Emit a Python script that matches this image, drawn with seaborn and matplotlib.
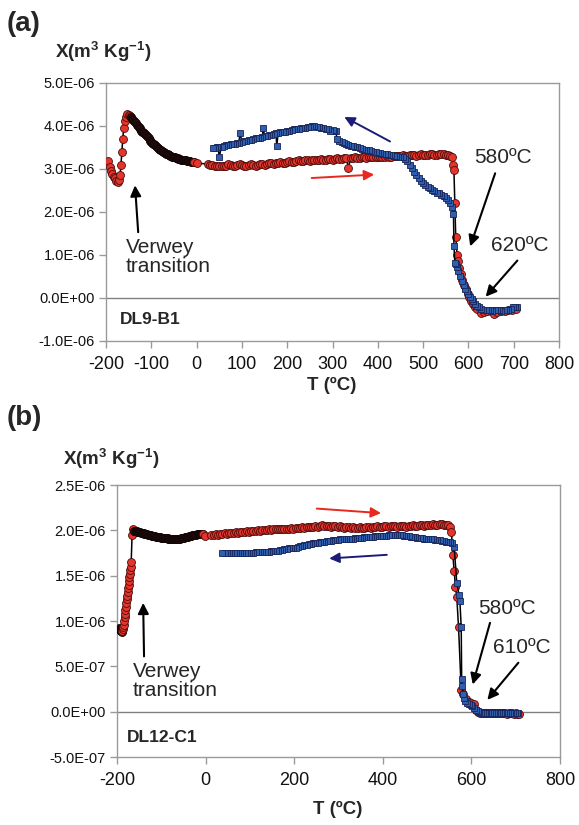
import numpy as np
import matplotlib
matplotlib.use("Agg")
import matplotlib.pyplot as plt
import seaborn as sns

# ---------------------------------------------------------------------------
# Susceptibility vs temperature, values in units of 1e-6 m^3/kg
# ---------------------------------------------------------------------------
SCALE = 1e-6

# (a) sample DL9-B1 : heating run (T, chi), split into its segments
RED_A_COLD = [
    (-195, 3.18), (-192, 3.05), (-189, 2.95), (-186, 2.88), (-183, 2.82), (-180, 2.78),
    (-177, 2.72), (-174, 2.70), (-171, 2.75), (-169, 2.85), (-167, 3.10), (-165, 3.40),
    (-163, 3.70), (-161, 3.95), (-159, 4.12), (-156, 4.22), (-153, 4.27), (-150, 4.26),
    (-147, 4.24), (-144, 4.20),
]
# densely sampled stretch after the Verwey peak
RED_A_DENSE = [
    (-144, 4.20), (-142, 4.17), (-140, 4.14), (-138, 4.12), (-136, 4.09), (-134, 4.06),
    (-132, 4.03), (-130, 4.00), (-128, 3.97), (-126, 3.95), (-124, 3.92), (-122, 3.89),
    (-120, 3.87), (-118, 3.85), (-116, 3.83), (-114, 3.81), (-112, 3.79), (-110, 3.77),
    (-108, 3.74), (-106, 3.71), (-104, 3.68), (-102, 3.66), (-100, 3.63), (-98, 3.61),
    (-96, 3.59), (-94, 3.57), (-92, 3.55), (-90, 3.53), (-88, 3.51), (-86, 3.49),
    (-84, 3.47), (-82, 3.46), (-80, 3.44), (-78, 3.43), (-76, 3.42), (-74, 3.40),
    (-72, 3.39), (-70, 3.38), (-68, 3.36), (-66, 3.35), (-64, 3.34), (-62, 3.33),
    (-60, 3.32), (-58, 3.31), (-56, 3.30), (-54, 3.29), (-52, 3.28), (-50, 3.28),
    (-48, 3.27), (-46, 3.26), (-44, 3.25), (-42, 3.25), (-40, 3.24), (-38, 3.23),
    (-36, 3.23), (-34, 3.22), (-32, 3.22), (-30, 3.21), (-28, 3.21), (-26, 3.20),
    (-24, 3.20), (-22, 3.19), (-20, 3.19), (-18, 3.18), (-16, 3.18), (-14, 3.18),
    (-12, 3.17), (-10, 3.17), (-8, 3.16), (-6, 3.16),
]
RED_A_WARM = [
    (-6, 3.16), (1, 3.13),
    (25, 3.12), (30, 3.10), (35, 3.09), (40, 3.08), (45, 3.07), (50, 3.08), (55, 3.06),
    (60, 3.07), (65, 3.08), (70, 3.11), (75, 3.09), (80, 3.07), (85, 3.08), (90, 3.10),
    (95, 3.12), (100, 3.10), (105, 3.08), (110, 3.07), (115, 3.09), (120, 3.11),
    (125, 3.10), (130, 3.08), (135, 3.09), (140, 3.11), (145, 3.12), (150, 3.10),
    (155, 3.11), (160, 3.13), (165, 3.14), (170, 3.12), (175, 3.13), (180, 3.15),
    (185, 3.16), (190, 3.14), (195, 3.15), (200, 3.17), (205, 3.18), (210, 3.16),
    (215, 3.17), (220, 3.19), (225, 3.20), (230, 3.18), (235, 3.19), (240, 3.21),
    (245, 3.20), (250, 3.19), (255, 3.21), (260, 3.22), (265, 3.20), (270, 3.21),
    (275, 3.23), (280, 3.22), (285, 3.21), (290, 3.23), (295, 3.24), (300, 3.22),
    (305, 3.23), (310, 3.25), (315, 3.24), (320, 3.23), (325, 3.25), (330, 3.26),
    (335, 3.03), (340, 3.25), (345, 3.26), (350, 3.27), (355, 3.25), (360, 3.26),
    (365, 3.28), (370, 3.27), (375, 3.26), (380, 3.28), (385, 3.29), (390, 3.27),
    (395, 3.28), (400, 3.29), (405, 3.28), (410, 3.27), (415, 3.29), (420, 3.30),
    (425, 3.29), (430, 3.28), (435, 3.30), (440, 3.31), (445, 3.30), (450, 3.31),
    (455, 3.32), (460, 3.31), (465, 3.30), (470, 3.32), (475, 3.33), (480, 3.32),
    (485, 3.31), (490, 3.33), (495, 3.34), (500, 3.33), (505, 3.32), (510, 3.33),
    (515, 3.34), (520, 3.35), (525, 3.33), (530, 3.32), (535, 3.34), (540, 3.35),
    (545, 3.34), (550, 3.33), (555, 3.32), (559, 3.30), (563, 3.27), (566, 3.10),
    (568, 2.97), (570, 2.20), (572, 1.42), (575, 1.00), (577, 0.87), (580, 0.70),
    (583, 0.55), (586, 0.42), (590, 0.30), (594, 0.20), (598, 0.10), (602, 0.02),
    (606, -0.06), (610, -0.13), (615, -0.20), (620, -0.26), (628, -0.36), (635, -0.32),
    (642, -0.31), (650, -0.31), (657, -0.37), (664, -0.32), (672, -0.30), (680, -0.30),
    (688, -0.29), (696, -0.28), (705, -0.26),
]

# (a) sample DL9-B1 : cooling run (T, chi), in measurement order
BLUE_A = [
    (707, -0.22), (703, -0.20), (698, -0.22), (693, -0.25), (688, -0.28), (683, -0.27),
    (678, -0.28), (673, -0.30), (668, -0.28), (663, -0.27), (658, -0.28), (653, -0.30),
    (648, -0.29), (643, -0.27), (638, -0.28), (633, -0.27), (628, -0.25), (623, -0.22),
    (619, -0.18), (615, -0.14), (611, -0.08), (607, -0.02), (604, 0.02), (600, 0.10),
    (597, 0.16), (593, 0.22), (590, 0.30), (586, 0.40), (582, 0.50), (578, 0.62),
    (575, 0.72), (572, 0.80), (570, 0.82), (568, 1.22), (567, 1.96), (564, 2.12),
    (559, 2.20), (555, 2.28), (550, 2.33), (545, 2.37), (540, 2.40), (535, 2.43),
    (530, 2.45), (525, 2.49), (520, 2.52), (515, 2.55), (510, 2.58), (505, 2.63),
    (500, 2.68), (495, 2.73), (490, 2.80), (485, 2.87), (480, 2.94), (475, 3.02),
    (470, 3.10), (465, 3.18), (460, 3.24), (455, 3.27), (450, 3.28), (445, 3.29),
    (440, 3.30), (435, 3.31), (430, 3.32), (425, 3.33), (420, 3.34), (415, 3.35),
    (410, 3.36), (405, 3.37), (400, 3.38), (395, 3.39), (390, 3.40), (385, 3.42),
    (380, 3.43), (375, 3.44), (370, 3.45), (365, 3.47), (360, 3.48), (355, 3.50),
    (350, 3.51), (345, 3.53), (340, 3.54), (335, 3.56), (330, 3.58), (325, 3.60),
    (320, 3.63), (315, 3.66), (310, 3.70), (307, 3.88), (303, 3.88), (300, 3.90),
    (295, 3.89), (290, 3.92), (285, 3.93), (280, 3.95), (275, 3.96), (270, 3.97),
    (265, 3.98), (260, 4.00), (255, 3.99), (250, 3.98), (245, 3.97), (240, 3.96),
    (235, 3.95), (230, 3.96), (225, 3.94), (220, 3.93), (215, 3.92), (210, 3.90),
    (205, 3.89), (200, 3.88), (195, 3.86), (190, 3.87), (185, 3.85), (180, 3.84),
    (177, 3.54), (175, 3.83), (170, 3.81), (165, 3.80), (160, 3.78), (155, 3.77),
    (150, 3.76), (147, 3.96), (145, 3.74), (140, 3.73), (135, 3.72), (130, 3.71),
    (125, 3.69), (120, 3.68), (115, 3.67), (110, 3.66), (105, 3.64), (100, 3.63),
    (96, 3.84), (93, 3.61), (90, 3.60), (85, 3.59), (80, 3.58), (75, 3.57),
    (70, 3.56), (65, 3.55), (60, 3.54), (55, 3.52), (50, 3.29), (47, 3.51),
    (44, 3.50), (40, 3.49), (37, 3.48),
]

# (b) sample DL12-C1 : heating run (T, chi), split into its segments
RED_B_START = [
    (-195, 0.92), (-194, 0.91), (-193, 0.90), (-192, 0.90), (-191, 0.89), (-190, 0.89),
    (-189, 0.88), (-188, 0.89),
]
RED_B_RISE = [
    (-188, 0.89), (-187, 0.91), (-186, 0.93), (-185, 0.96), (-184, 1.00),
    (-183, 1.04), (-182, 1.08), (-181, 1.12), (-180, 1.16), (-179, 1.20), (-178, 1.24),
    (-177, 1.28), (-176, 1.32), (-175, 1.36), (-174, 1.40), (-173, 1.44), (-172, 1.48),
    (-171, 1.52), (-170, 1.56), (-169, 1.60), (-168, 1.65), (-166, 1.95), (-164, 2.01),
    (-161, 1.99),
]
RED_B_DENSE = [
    (-161, 1.99), (-158, 1.99), (-156, 1.99), (-154, 1.98), (-152, 1.98), (-150, 1.98),
    (-148, 1.98), (-146, 1.97), (-144, 1.97), (-142, 1.97), (-140, 1.97), (-138, 1.96),
    (-136, 1.96), (-134, 1.96), (-132, 1.96), (-130, 1.95), (-128, 1.95), (-126, 1.95),
    (-124, 1.95), (-122, 1.94), (-120, 1.94), (-118, 1.94), (-116, 1.94), (-114, 1.94),
    (-112, 1.93), (-110, 1.93), (-108, 1.93), (-106, 1.93), (-104, 1.93), (-102, 1.93),
    (-100, 1.92), (-98, 1.92), (-96, 1.92), (-94, 1.92), (-92, 1.92), (-90, 1.92),
    (-88, 1.92), (-86, 1.92), (-84, 1.91), (-82, 1.91), (-80, 1.91), (-78, 1.91),
    (-76, 1.91), (-74, 1.91), (-72, 1.91), (-70, 1.91), (-68, 1.91), (-66, 1.91),
    (-64, 1.91), (-62, 1.91), (-60, 1.91), (-58, 1.91), (-56, 1.92), (-54, 1.92),
    (-52, 1.92), (-50, 1.92), (-48, 1.92), (-46, 1.93), (-44, 1.93), (-42, 1.93),
    (-40, 1.93), (-38, 1.94), (-36, 1.94), (-34, 1.94), (-32, 1.94), (-30, 1.95),
    (-28, 1.95), (-26, 1.95), (-24, 1.95), (-22, 1.95), (-20, 1.96), (-18, 1.96),
    (-16, 1.96), (-14, 1.96), (-12, 1.96), (-10, 1.96), (-8, 1.96), (-6, 1.96),
]
RED_B_WARM = [
    (-6, 1.96), (-1, 1.94),
    (13, 1.95), (18, 1.95), (23, 1.96), (28, 1.95), (33, 1.96), (38, 1.96), (43, 1.97),
    (48, 1.96), (53, 1.97), (58, 1.97), (63, 1.97), (68, 1.98), (73, 1.97), (78, 1.98),
    (83, 1.98), (88, 1.98), (93, 1.99), (98, 1.98), (103, 1.99), (108, 1.99), (113, 1.99),
    (118, 2.00), (123, 1.99), (128, 2.00), (133, 2.00), (138, 2.00), (143, 2.01),
    (148, 2.00), (153, 2.01), (158, 2.01), (163, 2.01), (168, 2.02), (173, 2.01),
    (178, 2.02), (183, 2.02), (188, 2.02), (193, 2.03), (198, 2.02), (203, 2.03),
    (208, 2.03), (213, 2.03), (218, 2.04), (223, 2.03), (228, 2.04), (233, 2.04),
    (238, 2.04), (243, 2.04), (248, 2.05), (253, 2.04), (258, 2.05), (263, 2.06),
    (268, 2.05), (273, 2.05), (278, 2.05), (283, 2.04), (288, 2.05), (293, 2.05),
    (298, 2.04), (303, 2.05), (308, 2.04), (313, 2.03), (318, 2.04), (323, 2.04),
    (328, 2.03), (333, 2.04), (338, 2.03), (343, 2.03), (348, 2.04), (353, 2.03),
    (358, 2.03), (363, 2.04), (368, 2.04), (373, 2.03), (378, 2.04), (383, 2.04),
    (388, 2.05), (393, 2.04), (398, 2.04), (403, 2.05), (408, 2.05), (413, 2.04),
    (418, 2.05), (423, 2.05), (428, 2.05), (433, 2.04), (438, 2.05), (443, 2.05),
    (448, 2.05), (453, 2.04), (458, 2.05), (463, 2.05), (468, 2.06), (473, 2.05),
    (478, 2.05), (483, 2.06), (488, 2.06), (493, 2.05), (498, 2.06), (503, 2.06),
    (508, 2.06), (513, 2.07), (518, 2.06), (523, 2.06), (528, 2.07), (533, 2.07),
    (538, 2.06), (543, 2.06), (548, 2.06),
    (552, 2.04), (555, 1.98), (558, 1.73), (561, 1.55), (564, 1.38), (567, 1.26),
    (571, 0.93), (577, 0.24), (582, 0.20), (588, 0.14), (594, 0.11), (600, 0.10),
    (606, 0.08), (611, 0.02), (616, 0.00), (620, -0.01), (624, -0.01), (628, -0.02),
    (632, -0.01), (636, -0.02), (640, -0.02), (644, -0.01), (648, -0.02), (652, -0.02),
    (656, -0.02), (660, -0.01), (664, -0.02), (668, -0.02), (672, -0.02), (676, -0.02),
    (680, -0.03), (684, -0.02), (688, -0.02), (692, -0.02), (696, -0.03), (700, -0.02),
    (704, -0.03), (708, -0.03),
]

# (b) sample DL12-C1 : cooling run (T, chi), in measurement order
BLUE_B = [
    (706, -0.02), (702, -0.02), (698, -0.02), (694, -0.02), (690, -0.01), (686, -0.02),
    (682, -0.02), (678, -0.02), (674, -0.01), (670, -0.02), (666, -0.02), (662, -0.01),
    (658, -0.01), (654, -0.02), (650, -0.01), (646, -0.01), (642, -0.01), (638, -0.01),
    (634, -0.01), (630, -0.01), (626, -0.01), (622, -0.01), (618, 0.00), (614, 0.01),
    (610, 0.02), (606, 0.04), (602, 0.06), (598, 0.07), (594, 0.08), (590, 0.10),
    (586, 0.12), (583, 0.15), (581, 0.20), (579, 0.28), (578, 0.36), (577, 0.93),
    (574, 1.22), (572, 1.29), (567, 1.42), (561, 1.82), (556, 1.86), (552, 1.87),
    (548, 1.87), (543, 1.87), (538, 1.88), (533, 1.88), (528, 1.89), (523, 1.89),
    (518, 1.89), (513, 1.90), (508, 1.90), (503, 1.90), (498, 1.91), (493, 1.91),
    (488, 1.92), (483, 1.92), (478, 1.92), (473, 1.93), (468, 1.93), (463, 1.93),
    (458, 1.94), (453, 1.94), (448, 1.94), (443, 1.95), (438, 1.95), (433, 1.95),
    (428, 1.95), (423, 1.95), (418, 1.95), (413, 1.95), (408, 1.94), (403, 1.94),
    (398, 1.94), (393, 1.94), (388, 1.94), (383, 1.94), (378, 1.93), (373, 1.93),
    (368, 1.93), (363, 1.93), (358, 1.93), (353, 1.92), (348, 1.92), (343, 1.92),
    (338, 1.92), (333, 1.91), (328, 1.91), (323, 1.91), (318, 1.91), (313, 1.90),
    (308, 1.90), (303, 1.90), (298, 1.89), (293, 1.89), (288, 1.89), (283, 1.88),
    (278, 1.88), (273, 1.88), (268, 1.87), (263, 1.87), (258, 1.87), (253, 1.86),
    (248, 1.86), (243, 1.86), (238, 1.85), (233, 1.85), (228, 1.84), (223, 1.84),
    (218, 1.83), (213, 1.83), (208, 1.82), (203, 1.81), (198, 1.81), (193, 1.80),
    (188, 1.80), (183, 1.79), (178, 1.79), (173, 1.78), (168, 1.78), (163, 1.77),
    (158, 1.77), (153, 1.77), (148, 1.77), (143, 1.76), (138, 1.76), (133, 1.76),
    (128, 1.76), (123, 1.76), (118, 1.76), (113, 1.76), (108, 1.75), (103, 1.75),
    (98, 1.75), (93, 1.75), (88, 1.75), (83, 1.75), (78, 1.75), (73, 1.75),
    (68, 1.75), (63, 1.75), (58, 1.75), (53, 1.75), (48, 1.75), (43, 1.75), (38, 1.75),
]

# Axis ticks
XTICKS_A = [-200, -100, 0, 100, 200, 300, 400, 500, 600, 700, 800]
YTICKS_A = [-1.0, 0.0, 1.0, 2.0, 3.0, 4.0, 5.0]
XTICKS_B = [-200, 0, 200, 400, 600, 800]
YTICKS_B = [-0.5, 0.0, 0.5, 1.0, 1.5, 2.0, 2.5]

SAMPLE_A = "DL9-B1"
SAMPLE_B = "DL12-C1"
YLABEL = r"X(m$^{3}$ Kg$^{-1}$)"
XLABEL = "T (ºC)"

# ---------------------------------------------------------------------------
sns.set_style("white")
plt.rcParams["font.family"] = ["Liberation Sans", "DejaVu Sans"]
plt.rcParams["mathtext.default"] = "regular"

RED_FACE, RED_EDGE = "#e4342b", "#4a0c0c"
DARK_FACE, DARK_EDGE = "#2a1010", "#120606"
BLUE_FACE, BLUE_EDGE = "#3060ad", "#17245a"
FRAME = "#9a9a9a"
RED_SIZE, BLUE_SIZE = 5.7, 4.7

fig = plt.figure(figsize=(5.79, 8.25), dpi=100)
ax_a = fig.add_axes([0.1831, 0.5867, 0.7824, 0.3127])
ax_b = fig.add_axes([0.2021, 0.0824, 0.7651, 0.3297])


def draw_run(ax, pairs, marker, size, face, edge):
    t = np.array([p[0] for p in pairs], dtype=float)
    v = np.array([p[1] for p in pairs], dtype=float) * SCALE
    sns.lineplot(x=t, y=v, ax=ax, sort=False, estimator=None, color="black",
                 linewidth=1.1, marker=marker, markersize=size,
                 markerfacecolor=face, markeredgecolor=edge, markeredgewidth=0.6,
                 zorder=3)


def style_axes(ax, xticks, yticks):
    ax.set_xlim(xticks[0], xticks[-1])
    ax.set_ylim(yticks[0] * SCALE, yticks[-1] * SCALE)
    ax.set_xticks(xticks)
    ax.set_xticklabels([str(t) for t in xticks], fontsize=13, color="#111111")
    ax.set_yticks([y * SCALE for y in yticks])
    ax.set_yticklabels([f"{y * SCALE:.1E}" for y in yticks], fontsize=10.5,
                       color="#111111")
    ax.tick_params(axis="both", direction="out", length=5, width=1, color=FRAME,
                   bottom=True, left=True, pad=3)
    ax.tick_params(axis="x", pad=6)
    for s in ax.spines.values():
        s.set_color(FRAME)
        s.set_linewidth(1.0)
    ax.axhline(0, color="#808080", linewidth=1.0, zorder=1)
    ax.set_xlabel("")
    ax.set_ylabel("")


def arrow(ax, tail, head, color="black", lw=1.5, scale=16):
    ax.annotate("", xy=(head[0], head[1] * SCALE), xytext=(tail[0], tail[1] * SCALE),
                arrowprops=dict(arrowstyle="-|>", color=color, lw=lw,
                                mutation_scale=scale, shrinkA=0, shrinkB=0),
                zorder=5)


# ---- panel (a) ----
draw_run(ax_a, RED_A_COLD, "o", RED_SIZE, RED_FACE, RED_EDGE)
draw_run(ax_a, RED_A_DENSE, "o", RED_SIZE, DARK_FACE, DARK_EDGE)
draw_run(ax_a, RED_A_WARM, "o", RED_SIZE, RED_FACE, RED_EDGE)
draw_run(ax_a, BLUE_A, "s", BLUE_SIZE, BLUE_FACE, BLUE_EDGE)
style_axes(ax_a, XTICKS_A, YTICKS_A)

arrow(ax_a, (-129, 1.53), (-136, 2.62))
ax_a.text(-156, 1.40 * SCALE, "Verwey\ntransition", fontsize=15, ha="left",
          va="top", linespacing=1.0)
arrow(ax_a, (254, 2.79), (392, 2.87), color="#e8281e", lw=1.4, scale=15)
arrow(ax_a, (427, 3.64), (326, 4.21), color="#1c1c78", lw=1.4, scale=15)
ax_a.text(676, 3.26 * SCALE, "580ºC", fontsize=15, ha="center", va="center")
arrow(ax_a, (659, 2.90), (604, 1.20))
ax_a.text(714, 1.22 * SCALE, "620ºC", fontsize=15, ha="center", va="center")
arrow(ax_a, (708, 0.87), (638, 0.03))
ax_a.text(-169, -0.49 * SCALE, SAMPLE_A, fontsize=12.5, fontweight="bold",
          ha="left", va="center")

# ---- panel (b) ----
draw_run(ax_b, RED_B_START, "o", RED_SIZE, DARK_FACE, DARK_EDGE)
draw_run(ax_b, RED_B_RISE, "o", RED_SIZE, RED_FACE, RED_EDGE)
draw_run(ax_b, RED_B_DENSE, "o", RED_SIZE, DARK_FACE, DARK_EDGE)
draw_run(ax_b, RED_B_WARM, "o", RED_SIZE, RED_FACE, RED_EDGE)
draw_run(ax_b, BLUE_B, "s", BLUE_SIZE, BLUE_FACE, BLUE_EDGE)
style_axes(ax_b, XTICKS_B, YTICKS_B)

arrow(ax_b, (-139, 0.61), (-141, 1.20))
ax_b.text(-164, 0.55 * SCALE, "Verwey\ntransition", fontsize=15, ha="left",
          va="top", linespacing=1.0)
arrow(ax_b, (251, 2.24), (396, 2.19), color="#e8281e", lw=1.4, scale=15)
arrow(ax_b, (409, 1.73), (279, 1.69), color="#1c1c78", lw=1.4, scale=15)
ax_b.text(681, 1.14 * SCALE, "580ºC", fontsize=15, ha="center", va="center")
arrow(ax_b, (642, 0.98), (603, 0.30))
ax_b.text(714, 0.71 * SCALE, "610ºC", fontsize=15, ha="center", va="center")
arrow(ax_b, (706, 0.54), (636, 0.13))
ax_b.text(-177, -0.28 * SCALE, SAMPLE_B, fontsize=12.5, fontweight="bold",
          ha="left", va="center")

# ---- panel letters and axis titles ----
fig.text(0.012, 0.971, "(a)", fontsize=20, fontweight="bold", ha="left", va="center")
fig.text(0.095, 0.937, YLABEL, fontsize=13.5, fontweight="bold", ha="left", va="center")
fig.text(0.573, 0.533, XLABEL, fontsize=13.5, fontweight="bold", ha="center", va="center")
fig.text(0.012, 0.493, "(b)", fontsize=20, fontweight="bold", ha="left", va="center")
fig.text(0.109, 0.444, YLABEL, fontsize=13.5, fontweight="bold", ha="left", va="center")
fig.text(0.584, 0.019, XLABEL, fontsize=13.5, fontweight="bold", ha="center", va="center")

fig.savefig("out.png", dpi=100)
